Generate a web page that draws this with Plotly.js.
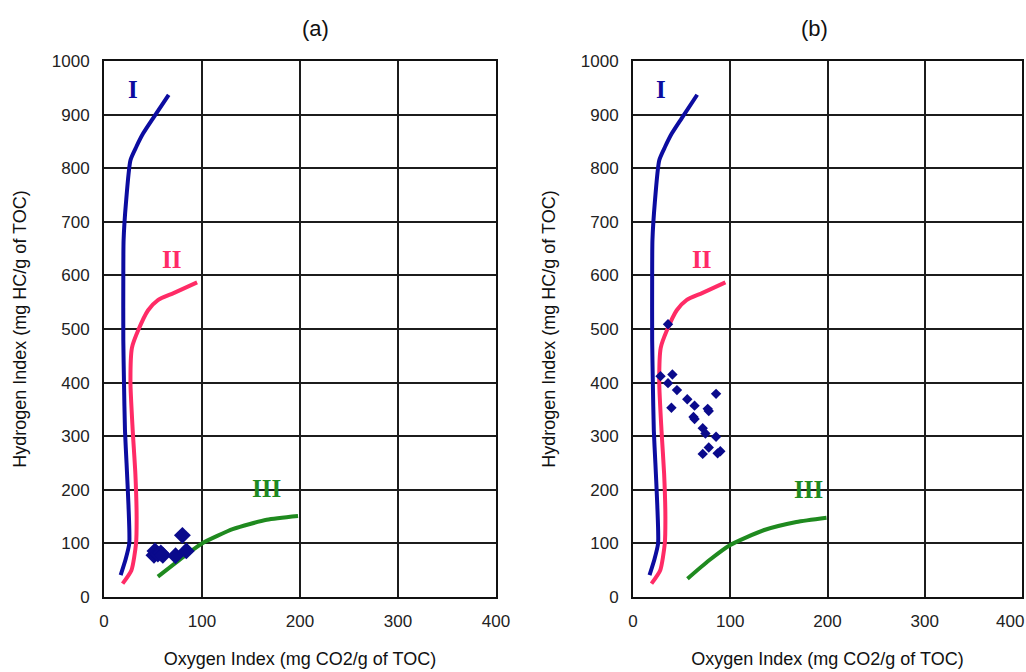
<!DOCTYPE html>
<html>
<head>
<meta charset="utf-8">
<script src="https://cdn.plot.ly/plotly-3.0.1.min.js"></script>
<style>html,body{margin:0;padding:0;background:#fff;}#chart{width:1026px;height:672px;}</style>
</head>
<body>
<div id="chart"></div>
<script>
// Type reference curves (Oxygen Index, Hydrogen Index)
const typeI_x = [17, 22, 25.8, 25, 23, 21.4, 20.4, 19.7, 19.7, 20, 22.4, 27, 33, 40, 50, 66];
const typeI_y = [41, 70, 100, 170, 250, 311, 400, 480, 600, 666, 735, 815, 840, 865, 893, 937];
const typeII_x = [19, 28, 32.7, 33.3, 32, 29.3, 27, 28.5, 35, 45, 55, 71, 95];
const typeII_y = [25, 50, 100, 150, 230, 311, 400, 465, 498, 535, 554, 567, 587];
const typeIIIa_x = [55, 81, 100, 132, 166, 198];
const typeIIIa_y = [38, 75, 100, 127, 144, 151];
const typeIIIb_x = [56, 78, 100, 135, 168, 199];
const typeIIIb_y = [34, 68, 97, 125, 140, 148];

// Sample points
const samplesA_x = [51, 52, 55, 58, 60, 73, 80, 84];
const samplesA_y = [78, 86, 80, 82, 78, 77, 115, 86];
const samplesB_x = [36, 28.3, 40.5, 36, 45.2, 55.8, 39.5, 63.3, 85.4, 62.2, 63.3, 76.8, 77.9, 71.7, 74.5, 85.4, 77.9, 71.7, 87, 89.8];
const samplesB_y = [509, 412, 415, 399, 386, 369, 353, 357, 379, 336, 332, 351, 347, 315, 305, 299, 279, 267, 268, 272];

const xTicks = [0, 100, 200, 300, 400];
const yTicks = [0, 100, 200, 300, 400, 500, 600, 700, 800, 900, 1000];
const panelTitles = ['(a)', '(b)'];
const typeLabels = ['I', 'II', 'III'];

const cBlue = '#0c0ca0', cPink = '#ff2b66', cGreen = '#1f8a1f', cPts = '#0a0a8c';

function curve(x, y, color, xa, ya) {
  return {x: x, y: y, type: 'scatter', mode: 'lines', xaxis: xa, yaxis: ya,
          line: {color: color, width: 4, shape: 'spline', smoothing: 0.6}, hoverinfo: 'skip', showlegend: false};
}
const traces = [
  curve(typeI_x, typeI_y, cBlue, 'x', 'y'),
  curve(typeII_x, typeII_y, cPink, 'x', 'y'),
  curve(typeIIIa_x, typeIIIa_y, cGreen, 'x', 'y'),
  {x: samplesA_x, y: samplesA_y, type: 'scatter', mode: 'markers', xaxis: 'x', yaxis: 'y',
   marker: {symbol: 'diamond', size: 13, color: cPts}, showlegend: false},
  curve(typeI_x, typeI_y, cBlue, 'x2', 'y2'),
  curve(typeII_x, typeII_y, cPink, 'x2', 'y2'),
  curve(typeIIIb_x, typeIIIb_y, cGreen, 'x2', 'y2'),
  {x: samplesB_x, y: samplesB_y, type: 'scatter', mode: 'markers', xaxis: 'x2', yaxis: 'y2',
   marker: {symbol: 'diamond', size: 8, color: cPts}, showlegend: false}
];

const fontFam = 'Liberation Sans, Arial, sans-serif';
const tickFont = {family: fontFam, size: 17, color: '#222'};
function xax(domain, anchor, labels) {
  return {domain: domain, anchor: anchor, range: [0, 400], tickvals: xTicks, ticktext: labels,
    showgrid: true, gridcolor: '#1c1c1c', gridwidth: 2, zeroline: false,
    showline: true, mirror: true, linecolor: '#111', linewidth: 2, ticks: '', ticklabelstandoff: 8,
    tickfont: tickFont,
    title: {text: 'Oxygen Index (mg CO2/g of TOC)', font: {family: fontFam, size: 18, color: '#111'}, standoff: 22},
    fixedrange: true};
}
function yax(anchor) {
  return {domain: [0, 1], anchor: anchor, range: [0, 1000], tickvals: yTicks, ticktext: yTicks.map(String),
    showgrid: true, gridcolor: '#1c1c1c', gridwidth: 2, zeroline: false,
    showline: true, mirror: true, linecolor: '#111', linewidth: 2, ticks: '', ticklabelstandoff: 9,
    tickfont: tickFont,
    title: {text: 'Hydrogen Index (mg HC/g of TOC)', font: {family: fontFam, size: 18, color: '#111'}, standoff: 20},
    fixedrange: true};
}

const serif = 'Liberation Serif, Times New Roman, serif';
function lab(text, x, y, color, xr, yr) {
  return {text: '<b>' + text + '</b>', x: x, y: y, xref: xr, yref: yr, showarrow: false,
          font: {family: serif, size: 25, color: color}};
}
// panel (b)'s last x tick label sits at the picture's right edge, so it is drawn inside the page
const lastTick = xTicks[xTicks.length - 1];
const labelsB = xTicks.map(function (v, i) { return i === xTicks.length - 1 ? '' : String(v); });

const annotations = [
  {text: panelTitles[0], x: 0.2924, y: 1, xref: 'paper', yref: 'paper', yanchor: 'bottom', yshift: 18, showarrow: false,
   font: {family: fontFam, size: 22, color: '#111'}},
  {text: panelTitles[1], x: 0.8085, y: 1, xref: 'paper', yref: 'paper', yanchor: 'bottom', yshift: 18, showarrow: false,
   font: {family: fontFam, size: 22, color: '#111'}},
  {text: String(lastTick), x: lastTick, y: 0, xref: 'x2', yref: 'y2', xanchor: 'right', yanchor: 'middle',
   xshift: 4, yshift: -24, showarrow: false, font: tickFont},
  lab(typeLabels[0], 29.5, 946, cBlue, 'x', 'y'),
  lab(typeLabels[1], 69, 629, cPink, 'x', 'y'),
  lab(typeLabels[2], 166, 203, cGreen, 'x', 'y'),
  lab(typeLabels[0], 29, 946, cBlue, 'x2', 'y2'),
  lab(typeLabels[1], 70, 629, cPink, 'x2', 'y2'),
  lab(typeLabels[2], 180, 200, cGreen, 'x2', 'y2')
];

const layout = {
  width: 1026, height: 672,
  margin: {l: 0, r: 0, t: 61, b: 75},
  paper_bgcolor: '#fff', plot_bgcolor: '#fff',
  showlegend: false,
  xaxis: xax([104/1026, 496/1026], 'y', xTicks.map(String)),
  yaxis: yax('x'),
  xaxis2: xax([633/1026, 1022/1026], 'y2', labelsB),
  yaxis2: yax('x2'),
  annotations: annotations
};

Plotly.newPlot('chart', traces, layout, {displayModeBar: false, staticPlot: true});
</script>
</body>
</html>
